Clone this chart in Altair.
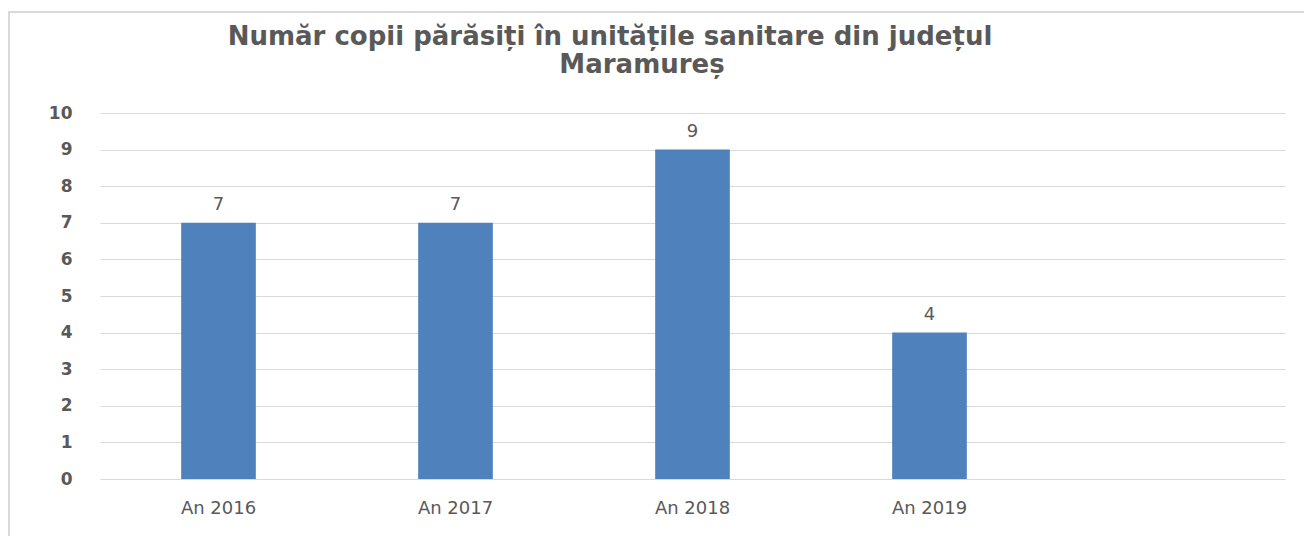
import altair as alt
import pandas as pd

categories = ["An 2016", "An 2017", "An 2018", "An 2019"]
values = [7, 7, 9, 4]
x_domain = categories + [" "]
y_ticks = list(range(0, 11))
title_line1 = "Număr copii părăsiți în unitățile sanitare din județul"
title_line2 = "Maramureș"

df = pd.DataFrame({"cat": categories, "val": values})

W, H = 1185, 366
FONT = "DejaVu Sans"
GRAY = "#595959"

x_scale = alt.Scale(domain=x_domain, paddingInner=0.685, paddingOuter=0.3425)
y_scale = alt.Scale(domain=[0, 10], nice=False)

x_enc = alt.X("cat:N", scale=x_scale, sort=x_domain,
              axis=alt.Axis(title=None, labelAngle=0, ticks=False, domain=False, grid=False,
                            labelPadding=20, labelFont=FONT, labelFontSize=18,
                            labelColor=GRAY))
y_enc = alt.Y("val:Q", scale=y_scale,
              axis=alt.Axis(title=None, values=y_ticks, labelOverlap=False,
                            ticks=False, domain=False,
                            grid=True, gridColor="#d9d9d9", gridWidth=1,
                            labelPadding=28, labelFont=FONT, labelFontSize=17,
                            labelColor=GRAY, labelFontWeight="bold"))

bars = alt.Chart(df).mark_bar(color="#4f81bd").encode(x=x_enc, y=y_enc)

labels = alt.Chart(df).mark_text(dy=-13, baseline="alphabetic", font=FONT, fontSize=18,
                                 color=GRAY, fontWeight="normal").encode(
    x=x_enc, y=y_enc, text=alt.Text("val:Q"))

t1 = alt.Chart(pd.DataFrame({"t": [title_line1]})).mark_text(
    font=FONT, fontSize=26, fontWeight="bold", color=GRAY, align="center",
    baseline="alphabetic").encode(x=alt.value(510), y=alt.value(-68), text="t:N")
t2 = alt.Chart(pd.DataFrame({"t": [title_line2]})).mark_text(
    font=FONT, fontSize=26, fontWeight="bold", color=GRAY, align="center",
    baseline="alphabetic").encode(x=alt.value(542), y=alt.value(-40), text="t:N")

border_left = alt.Chart(pd.DataFrame({"a": [0]})).mark_rule(color="#d9d9d9", strokeWidth=2).encode(
    x=alt.value(-91), y=alt.value(-101), y2=alt.value(H + 80))
border_top = alt.Chart(pd.DataFrame({"a": [0]})).mark_rule(color="#d9d9d9", strokeWidth=2).encode(
    y=alt.value(-101), x=alt.value(-92), x2=alt.value(W + 20))

chart = alt.layer(bars, labels, t1, t2, border_left, border_top).properties(
    width=W, height=H,
    background="white",
    autosize=alt.AutoSizeParams(type="none"),
    padding={"left": 92, "top": 105, "right": 19, "bottom": 65},
).configure_view(strokeWidth=0, stroke="transparent")

chart.save("out.html", embed_options={"renderer": "svg", "actions": False})
